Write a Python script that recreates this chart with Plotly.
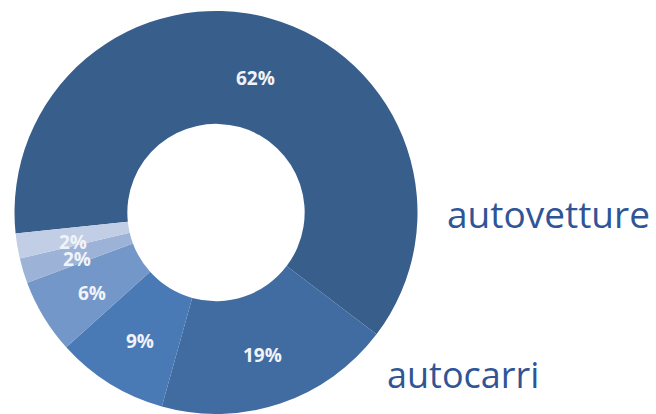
import math
import plotly.graph_objects as go

categories = ["autovetture", "autocarri", "categoria 3", "categoria 4", "categoria 5", "categoria 6"]
values = [62, 19, 9, 6, 2, 2]
slice_colors = ["#385E8C", "#406CA1", "#4A7AB6", "#7397C8", "#9DB2D7", "#C1CEE5"]
side_labels = ["autovetture", "autocarri"]

W, H = 656, 414
ROTATION = 264
HOLE = 0.44
DOM_X = [14 / W, 418 / W]
DOM_Y = [0, 1 - 11 / H]

fig = go.Figure(go.Pie(
    labels=categories,
    values=values,
    hole=HOLE,
    sort=False,
    direction="clockwise",
    rotation=ROTATION,
    marker=dict(colors=slice_colors, line=dict(width=0)),
    textinfo="none",
    showlegend=False,
    hoverinfo="label+percent",
    domain=dict(x=DOM_X, y=DOM_Y),
))

# percentage labels placed at the middle of each ring segment (derived from the data)
w_px = (DOM_X[1] - DOM_X[0]) * W
h_px = (DOM_Y[1] - DOM_Y[0]) * H
r_out = min(w_px, h_px) / 2
cx = (DOM_X[0] + DOM_X[1]) / 2 * W
cy = (1 - (DOM_Y[0] + DOM_Y[1]) / 2) * H
r_mid = r_out * (1 + HOLE) / 2
total = sum(values)
cum = 0
for v in values:
    mid = math.radians(ROTATION + (cum + v / 2) / total * 360)
    cum += v
    px = cx + r_mid * math.sin(mid)
    py = cy - r_mid * math.cos(mid)
    fig.add_annotation(text=f"{v}%", x=px / W, y=1 - py / H, xref="paper", yref="paper",
                       xanchor="center", yanchor="middle", yshift=-5, showarrow=False,
                       borderpad=0,
                       font=dict(family="Open Sans", size=19, color="#F0F3F8", weight="bold"))

fig.add_annotation(text=side_labels[0], x=445 / W, y=1 - 214 / H, xref="paper", yref="paper",
                   xanchor="left", yanchor="middle", showarrow=False,
                   font=dict(family="Open Sans", size=37, color="#2F5597"))
fig.add_annotation(text=side_labels[1], x=385 / W, y=1 - 374 / H, xref="paper", yref="paper",
                   xanchor="left", yanchor="middle", showarrow=False,
                   font=dict(family="Open Sans", size=36, color="#2F5597"))

fig.update_layout(
    width=W, height=H,
    margin=dict(l=0, r=0, t=0, b=0),
    paper_bgcolor="white", plot_bgcolor="white",
)

fig.write_html("out.html")
